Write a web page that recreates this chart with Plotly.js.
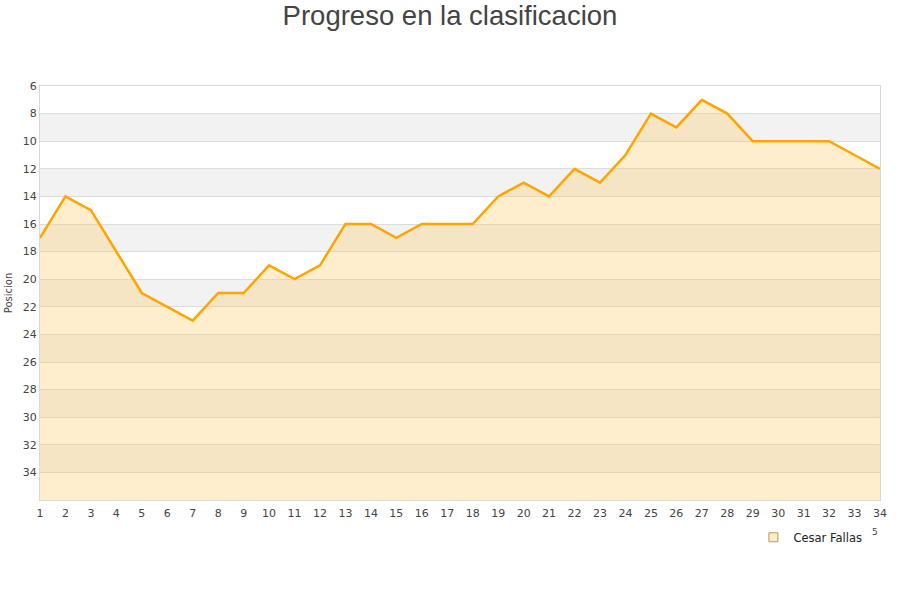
<!DOCTYPE html>
<html>
<head>
<meta charset="utf-8">
<script src="https://cdn.plot.ly/plotly-3.0.1.min.js"></script>
<style>
  html, body { margin: 0; padding: 0; background: #fff; }
  #plot { width: 900px; height: 600px; }
</style>
</head>
<body>
<div id="plot"></div>
<script>
// jornadas y posicion de cada jornada
const jornadas = [1, 2, 3, 4, 5, 6, 7, 8, 9, 10, 11, 12, 13, 14, 15, 16, 17,
  18, 19, 20, 21, 22, 23, 24, 25, 26, 27, 28, 29, 30, 31, 32, 33, 34];
const posiciones = [17, 14, 15, 18, 21, 22, 23, 21, 21, 19, 20, 19, 16, 16, 17,
  16, 16, 16, 14, 13, 14, 12, 13, 11, 8, 9, 7, 8, 10, 10, 10, 10, 11, 12];
const jugador = "Cesar Fallas";
const yTicks = [6, 8, 10, 12, 14, 16, 18, 20, 22, 24, 26, 28, 30, 32, 34];
const yMin = 6;
const yMax = 36;

// fill reaches down to the bottom of the axis
const baseline = jornadas.map(() => yMax);

// alternating grey bands between the gridlines
const bands = [];
for (let y = yMin + 2; y < yMax; y += 4) {
  bands.push({
    type: "rect", xref: "paper", yref: "y", x0: 0, x1: 1, y0: y, y1: y + 2,
    fillcolor: "#f2f2f2", line: { width: 0 }, layer: "below",
  });
}

const traceBase = {
  x: jornadas, y: baseline, mode: "lines",
  line: { width: 0, color: "rgba(0,0,0,0)" },
  hoverinfo: "skip", showlegend: false,
};

const traceJugador = {
  x: jornadas, y: posiciones, mode: "lines", name: jugador,
  fill: "tonexty", fillcolor: "rgba(255,204,102,0.33)",
  line: { color: "#ffa500", width: 2.5 },
  showlegend: false,
};

// legend entry only
const traceLegend = {
  x: [null], y: [null], mode: "markers", name: jugador,
  marker: { symbol: "square", size: 9, color: "#ffecc4",
    line: { color: "#b09a70", width: 1 } },
};

const font = { family: "DejaVu Sans, sans-serif", size: 11, color: "#444" };

Plotly.newPlot("plot", [traceBase, traceJugador, traceLegend], {
  width: 900, height: 600,
  margin: { l: 40, r: 20, t: 86, b: 100 },
  paper_bgcolor: "#fff", plot_bgcolor: "#fff",
  font: font,
  title: {
    text: "Progreso en la clasificacion",
    font: { family: "Liberation Sans, Arial, sans-serif", size: 27.5, color: "#444" },
    x: 0.5, xanchor: "center", y: 0.975, yanchor: "middle", yref: "container",
  },
  xaxis: {
    range: [1, 34], tickvals: jornadas,
    ticks: "outside", ticklen: 3, tickcolor: "rgba(0,0,0,0)",
    showgrid: false, zeroline: false,
    showline: true, linecolor: "#d9d9d9", mirror: true,
    tickfont: font, automargin: false,
  },
  yaxis: {
    range: [yMax, yMin], tickvals: yTicks, ticks: "",
    showgrid: true, gridcolor: "#dcdcdc", gridwidth: 1, zeroline: false,
    showline: true, linecolor: "#d9d9d9", mirror: true,
    tickfont: font, automargin: false,
    title: { text: "Posicion", font: { family: "DejaVu Sans, sans-serif", size: 10, color: "#444" }, standoff: 8 },
  },
  shapes: bands,
  showlegend: true,
  legend: {
    x: 0.985, xanchor: "right", y: -0.09, yanchor: "middle",
    orientation: "h", font: { family: "DejaVu Sans, sans-serif", size: 11.5, color: "#222" },
    bgcolor: "rgba(0,0,0,0)", itemwidth: 30,
  },
  annotations: [{
    text: "5", xref: "paper", yref: "paper", x: 0.994, y: -0.077,
    xanchor: "center", yanchor: "middle",
    showarrow: false, font: { family: "DejaVu Sans, sans-serif", size: 9, color: "#444" },
  }],
}, { displayModeBar: false, staticPlot: true });
</script>
</body>
</html>
